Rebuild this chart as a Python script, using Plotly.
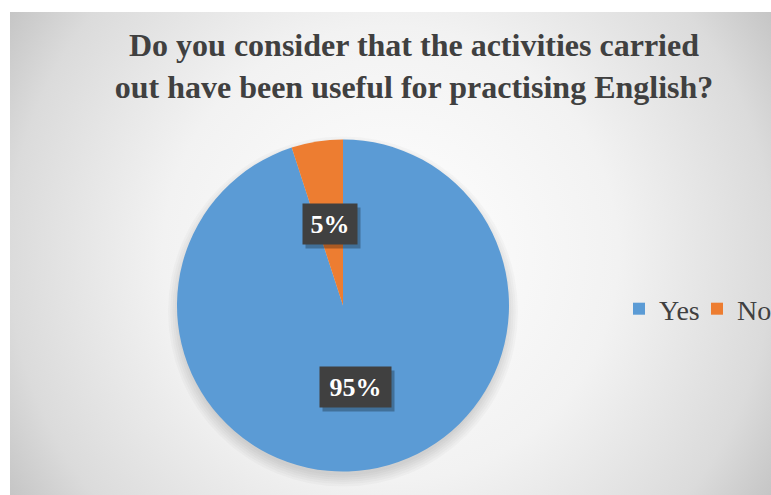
import base64
import math
import plotly.graph_objects as go

# ---- data ----
labels = ["Yes", "No"]
values = [95, 5]
colors = ["#5B9BD5", "#ED7D31"]
title_lines = ["Do you consider that the activities carried",
               "out have been useful for practising English?"]

SERIF = "Liberation Serif, Times New Roman, Tinos, DejaVu Serif, serif"
W, H = 771, 495
# pie geometry (pixels)
cx, cy, R = 343, 305.5, 166
dom_x = [(cx - R) / W, (cx + R) / W]
dom_y = [(H - cy - R) / H, (H - cy + R) / H]

# background gradient (chart area)
gx0, gy0 = 10, 12
gw, gh = W - gx0, H - gy0
svg = (f'<svg xmlns="http://www.w3.org/2000/svg" width="{gw}" height="{gh}">'
       f'<defs><radialGradient id="g" gradientUnits="userSpaceOnUse" cx="{gw/2}" cy="{gh/2}" r="455">'
       '<stop offset="0" stop-color="#ffffff"/>'
       '<stop offset="0.5" stop-color="#f2f2f2"/>'
       '<stop offset="0.84" stop-color="#dbdbdb"/>'
       '<stop offset="1" stop-color="#c4c4c4"/>'
       '</radialGradient></defs>'
       f'<rect width="{gw}" height="{gh}" fill="url(#g)"/></svg>')
src = "data:image/svg+xml;base64," + base64.b64encode(svg.encode()).decode()

fig = go.Figure()
fig.add_trace(go.Pie(
    labels=labels, values=values, sort=False, direction="clockwise",
    marker=dict(colors=colors, line=dict(width=0)),
    textinfo="none", hoverinfo="label+percent",
    domain=dict(x=dom_x, y=dom_y),
))

# soft shadow under the pie
shapes = []
for k in range(6):
    rr = R - 2 + k * 2.2
    oy = 6
    shapes.append(dict(
        type="circle", xref="paper", yref="paper", layer="below",
        x0=(cx - rr) / W, x1=(cx + rr) / W,
        y0=(H - cy - oy - rr) / H, y1=(H - cy - oy + rr) / H,
        fillcolor="rgba(0,0,0,0.022)", line=dict(width=0),
    ))

# data labels: boxes at half radius along each slice's mid angle
total = sum(values)
annotations = []
cum = 0
for v in values:
    mid = (cum + v / 2) / total * 2 * math.pi
    cum += v
    px = cx + 0.5 * R * math.sin(mid)
    py = cy - 0.5 * R * math.cos(mid)
    txt = f"{round(v / total * 100)}%"
    bw = 20 + 17 * len(txt)
    common = dict(xref="paper", yref="paper", x=px / W, y=1 - py / H,
                  showarrow=False, borderpad=0, xanchor="center", yanchor="middle",
                  width=bw, height=40, align="center", valign="middle")
    annotations.append(dict(common, text=" ",
                            font=dict(family=SERIF, size=26, color="rgba(0,0,0,0)"),
                            bgcolor="rgba(0,0,0,0.28)", xshift=3, yshift=-4))
    annotations.append(dict(common, text=f"<b>{txt}</b>",
                            font=dict(family=SERIF, size=26, color="#ffffff"),
                            bgcolor="#404040"))

fig.update_layout(
    width=W, height=H,
    margin=dict(l=0, r=0, t=0, b=0, autoexpand=False),
    paper_bgcolor="#ffffff",
    images=[dict(source=src, xref="paper", yref="paper", x=gx0 / W, y=1 - gy0 / H,
                 sizex=gw / W, sizey=gh / H, sizing="stretch", layer="below",
                 xanchor="left", yanchor="top")],
    title=dict(text="<b>" + "<br>".join(title_lines) + "</b>",
               font=dict(family=SERIF, size=32, color="#404040"),
               x=414 / W, xanchor="center", xref="paper",
               y=1 - 56 / H, yanchor="top", yref="container", automargin=False),
    showlegend=True,
    legend=dict(orientation="h", x=619 / W, xanchor="left", y=1 - 309 / H, yanchor="middle",
                font=dict(family=SERIF, size=28, color="#404040"),
                bgcolor="rgba(0,0,0,0)", entrywidth=33, traceorder="normal"),
    shapes=shapes,
    annotations=annotations,
)

fig.write_html("out.html")
